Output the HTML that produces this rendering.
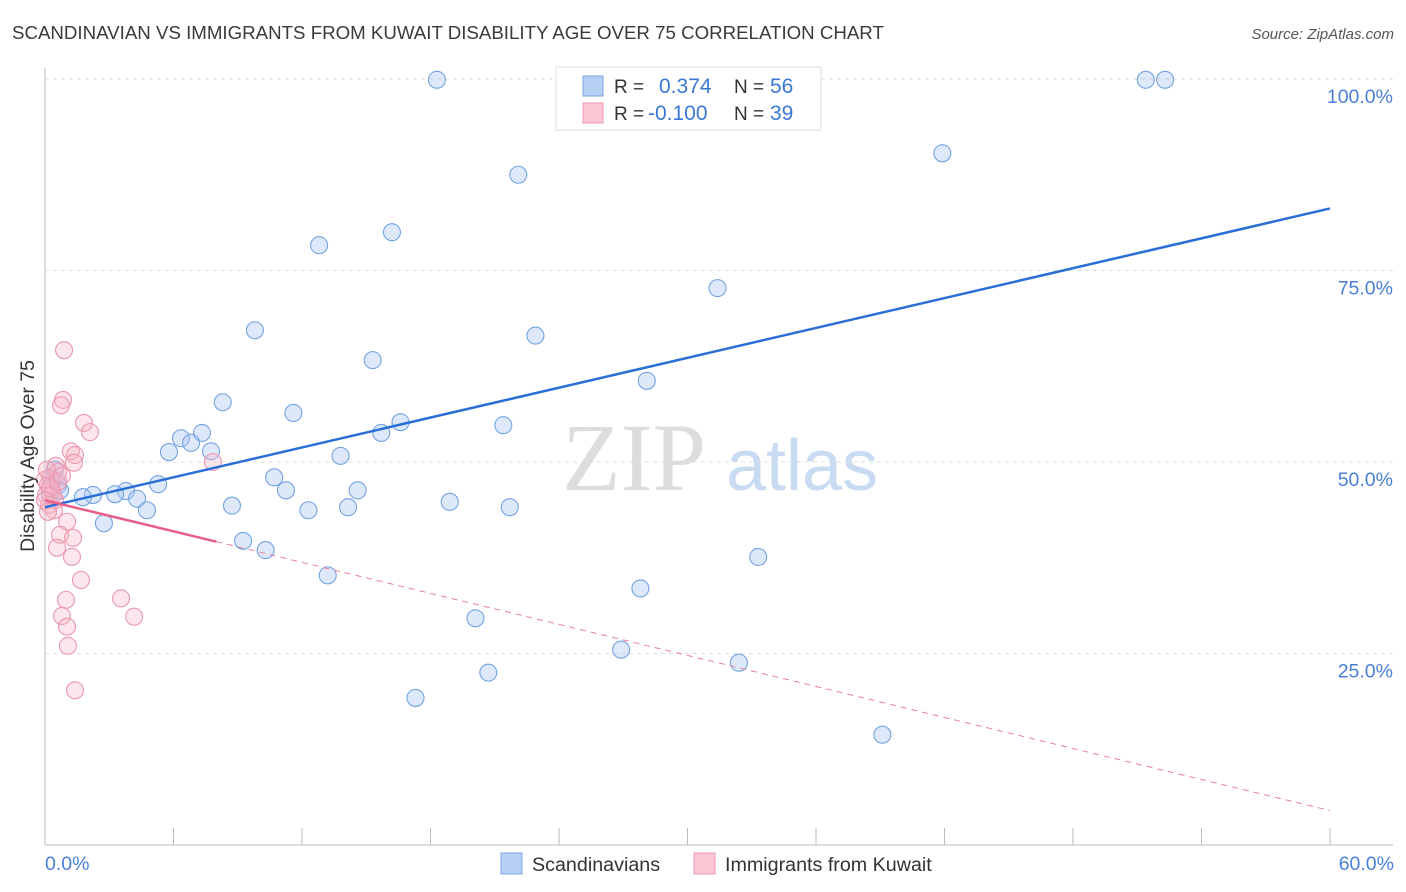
<!DOCTYPE html>
<html><head><meta charset="utf-8"><style>
body{margin:0;background:#fff;font-family:"Liberation Sans",sans-serif}
svg{display:block}
</style></head><body>
<svg id="c" width="1406" height="892">
<text x="12" y="39" font-size="18.7" fill="#3a3a3a">SCANDINAVIAN VS IMMIGRANTS FROM KUWAIT DISABILITY AGE OVER 75 CORRELATION CHART</text>
<text x="1394" y="39" font-size="15" fill="#555" font-style="italic" text-anchor="end">Source: ZipAtlas.com</text>
<text x="634" y="490" font-size="96" fill="#ddd" font-family="Liberation Serif,serif" text-anchor="middle">ZIP</text>
<text x="802" y="490" font-size="72" fill="#c9dbf3" text-anchor="middle">atlas</text>
<g id="grid"></g><g id="marks"></g>
<text transform="translate(34,456) rotate(-90)" font-size="19.5" fill="#333" text-anchor="middle">Disability Age Over 75</text>
<text x="45" y="870" font-size="19.5" fill="#4a7fd8">0.0%</text>
<text x="1394" y="870" font-size="19.5" fill="#4a7fd8" text-anchor="end">60.0%</text>
<g>
<rect x="556" y="67" width="265" height="63" fill="#fff" stroke="#ddd"/>
<rect x="583" y="76" width="20" height="20" fill="#b5d0f3" stroke="#7aa6e3"/>
<rect x="583" y="103" width="20" height="20" fill="#fac6d4" stroke="#eb9ab1"/>
<text x="614" y="93" font-size="19" fill="#333">R =</text><text x="659" y="93" font-size="21" fill="#3a78d6">0.374</text>
<text x="734" y="93" font-size="19" fill="#333">N =</text><text x="770" y="93" font-size="21" fill="#3a78d6">56</text>
<text x="614" y="120" font-size="19" fill="#333">R =</text><text x="648" y="120" font-size="21" fill="#3a78d6">-0.100</text>
<text x="734" y="120" font-size="19" fill="#333">N =</text><text x="770" y="120" font-size="21" fill="#3a78d6">39</text>
</g>
<g>
<rect x="501" y="853" width="21" height="21" fill="#b5d0f3" stroke="#7aa6e3"/>
<text x="532" y="871" font-size="19.7" fill="#333">Scandinavians</text>
<rect x="694" y="853" width="21" height="21" fill="#fac6d4" stroke="#eb9ab1"/>
<text x="725" y="871" font-size="19.7" fill="#333">Immigrants from Kuwait</text>
</g>
</svg>
<script>
const yTicks=[25,50,75,100];
const yTickLabels=["25.0%","50.0%","75.0%","100.0%"];
const xTicks=[6,12,18,24,30,36,42,48,54,60];
const blueX=[18.3,51.4,52.3,27.4,41.9,22.1,12.8,16.2,31.4,9.8,22.9,15.3,28.1,8.3,11.6,16.6,21.4,15.7,6.35,7.33,6.82,5.79,7.75,13.8,5.28,10.7,11.25,14.6,3.78,3.27,2.24,1.77,4.3,8.73,12.3,14.15,18.9,21.7,4.76,2.75,9.25,10.3,13.2,27.8,33.3,20.1,26.9,32.4,20.7,17.3,39.1,0.47,0.61,0.23,0.7,0.33];
const blueY=[99.9,99.9,99.9,99.9,90.3,87.5,78.3,80.0,72.7,67.2,66.5,63.3,60.6,57.8,56.4,55.2,54.8,53.8,53.1,53.8,52.5,51.3,51.4,50.8,47.1,48.0,46.3,46.3,46.2,45.8,45.7,45.4,45.2,44.3,43.7,44.1,44.8,44.1,43.7,42.0,39.7,38.5,35.2,33.5,37.6,29.6,25.5,23.8,22.5,19.2,14.4,49.0,47.0,45.7,46.3,47.7];
const pinkX=[0.89,0.84,0.75,1.82,2.1,1.21,1.4,1.35,7.84,0.51,0.61,0.23,0.14,0.33,0.05,0.47,0.19,0.42,1.03,0.7,1.31,0.56,1.26,1.68,0.98,3.55,0.79,4.16,1.03,1.07,1.4,0,0.09,0.37,0.23,0.61,0.79,0,0.14];
const pinkY=[64.6,58.1,57.4,55.1,53.9,51.4,50.9,49.9,50.0,49.5,48.7,47.9,47.0,46.3,45.7,45.0,44.4,43.7,42.2,40.5,40.1,38.8,37.6,34.6,32.0,32.2,29.9,29.8,28.5,26.0,20.2,47.7,49.0,45.7,46.6,47.4,48.2,45.0,43.5];
const blueTrend=[44.1,83.1];
const pinkTrend=[45.0,4.5];
const pinkSolidEnd=8.0;
const NS="http://www.w3.org/2000/svg";
const X=v=>45+v/60*1285, Y=v=>845-v*7.66;
function mk(t,a,p){const e=document.createElementNS(NS,t);for(const k in a)e.setAttribute(k,a[k]);p.appendChild(e);return e;}
const g=document.getElementById('grid'),m=document.getElementById('marks');
let ax=mk('line',{x1:45,y1:68,x2:45,y2:845,stroke:'#bbb'},g);

let bx=mk('line',{x1:45,y1:845,x2:1393,y2:845,stroke:'#bbb'},g);

yTicks.forEach((v,i)=>{
 const l=mk('line',{x1:45,y1:Y(v),x2:1393,y2:Y(v),stroke:'#ddd','stroke-dasharray':'4,4'},g);
 
 const t=mk('text',{x:1393,y:Y(v)+24,'font-size':19.5,fill:'#4a7fd8','text-anchor':'end'},g);t.textContent=yTickLabels[i];
 
});
xTicks.forEach(v=>{const l=mk('line',{x1:X(v),y1:828,x2:X(v),y2:845,stroke:'#bbb'},g);
 });
blueX.forEach((v,i)=>{const c=mk('circle',{cx:X(v),cy:Y(blueY[i]),r:8.5,fill:'rgba(170,200,242,0.4)',stroke:'#74a3e2','stroke-width':1.1},m);
 });
pinkX.forEach((v,i)=>{const c=mk('circle',{cx:X(v),cy:Y(pinkY[i]),r:8.5,fill:'rgba(247,180,198,0.35)',stroke:'#ea98b0','stroke-width':1.1},m);
 });
let bt=mk('line',{x1:X(0),y1:Y(blueTrend[0]),x2:X(60),y2:Y(blueTrend[1]),stroke:'#2a6fd6','stroke-width':2.5},m);

const py=x=>pinkTrend[0]+(pinkTrend[1]-pinkTrend[0])*x/60;
let pt=mk('line',{x1:X(0),y1:Y(py(0)),x2:X(pinkSolidEnd),y2:Y(py(pinkSolidEnd)),stroke:'#e8608a','stroke-width':2.5},m);

let pd=mk('line',{x1:X(pinkSolidEnd),y1:Y(py(pinkSolidEnd)),x2:X(60),y2:Y(py(60)),stroke:'#e8809e','stroke-width':1,'stroke-dasharray':'6,5'},m);

</script>
</body></html>
